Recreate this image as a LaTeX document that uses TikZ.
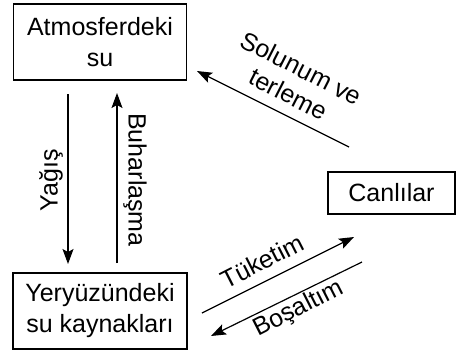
\documentclass[tikz,border=0pt]{standalone}
\usepackage{fontspec}
\setmainfont{Liberation Sans}
\usetikzlibrary{arrows.meta}
\begin{document}
\begin{tikzpicture}[x=1pt,y=-1pt,
  box/.style={draw,line width=1.3pt,inner sep=0pt,align=center,
    font=\fontsize{25}{31}\selectfont},
  lbl/.style={inner sep=0pt,align=center,font=\fontsize{25}{29}\selectfont},
  arr/.style={line width=1.2pt,-{Stealth[length=15pt,width=11pt,inset=3pt]}}]
\useasboundingbox (0,0) rectangle (456,354);
\node[box,minimum width=173pt,minimum height=76pt] (atm) at (100,42) {Atmosferdeki\\su};
\node[box,minimum width=174pt,minimum height=76pt] (yer) at (100,311) {Yeryüzündeki\\su kaynakları};
\node[box,minimum width=127pt,minimum height=42pt] (can) at (391.5,193) {Canlılar};
% Yağış
\coordinate (y1) at (68,94); \coordinate (y2) at (68,264);
\draw[arr] (y1) -- (y2);
\node[lbl,rotate=90] (yagis) at (51,180) {Yağış};
% Buharlaşma
\coordinate (b1) at (117,263); \coordinate (b2) at (117,93);
\draw[arr] (b1) -- (b2);
\node[lbl,rotate=-90] (buhar) at (135,180) {Buharlaşma};
% Solunum ve terleme
\coordinate (s1) at (349,147); \coordinate (s2) at (197,71);
\draw[arr] (s1) -- (s2);
\node[lbl,rotate=-27] (sol) at (295,81) {Solunum ve\\terleme};
% Tüketim
\coordinate (t1) at (202,313); \coordinate (t2) at (354,237);
\draw[arr] (t1) -- (t2);
\node[lbl,rotate=27] (tuk) at (262,261) {Tüketim};
% Boşaltım
\coordinate (o1) at (362,262); \coordinate (o2) at (211,336);
\draw[arr] (o1) -- (o2);
\node[lbl,rotate=27] (bos) at (299,309) {Boşaltım};
\end{tikzpicture}
\end{document}
